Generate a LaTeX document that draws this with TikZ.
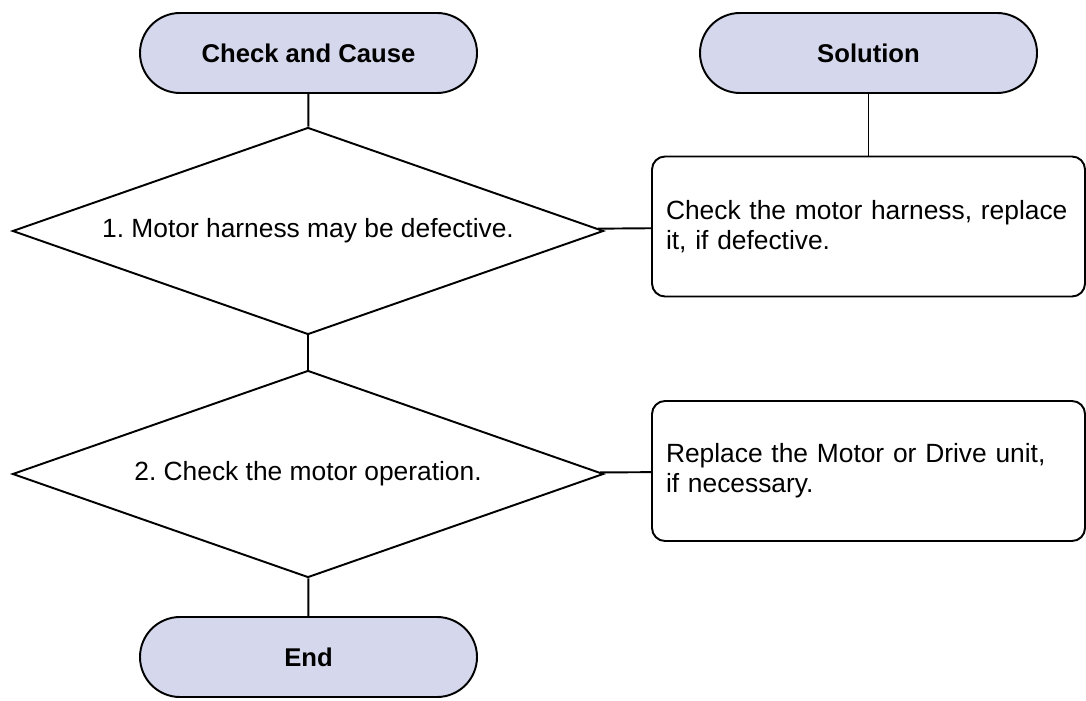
\documentclass[tikz,border=0pt]{standalone}
\usepackage{fontspec}
\setmainfont{Liberation Sans}
\usepackage{xcolor}
\usepackage{tikz}
\usetikzlibrary{shapes.geometric}
\definecolor{termfill}{RGB}{213,216,236}
\frenchspacing

\begin{document}
\begin{tikzpicture}[
    line width=1.1pt,
    terminal/.style={draw, fill=termfill, rounded corners=0.8cm,
      minimum width=6.74cm, minimum height=1.6cm,
      font=\fontsize{14.6}{17}\selectfont\bfseries},
    check/.style={draw, diamond, aspect=2.86, inner sep=0pt,
      minimum width=11.82cm, minimum height=4.14cm,
      font=\fontsize{15}{18}\selectfont},
    remedy/.style={draw, rounded corners=0.26cm, align=left,
      text width=8.1cm, inner xsep=0.28cm,
      minimum width=8.66cm, minimum height=2.8cm,
      font=\fontsize{15}{17}\selectfont}
  ]
  \useasboundingbox (0,0) rectangle (21.72,14);

  % Column headers
  \node[terminal] (cause) at (6.17,12.94) {Check and Cause};
  \node[terminal] (solution) at (17.37,12.94) {Solution};

  % Checks (left column)
  \node[check] (chk1) at (6.16,9.38) {1. Motor harness may be defective.};
  \node[check] (chk2) at (6.16,4.52) {2. Check the motor operation.};

  % End terminal
  \node[terminal] (end) at (6.17,0.86) {End};

  % Remedies (right column)
  \node[remedy] (fix1) at (17.37,9.47)
    {Check the motor harness, replace\\it, if defective.};
  \node[remedy] (fix2) at (17.37,4.58)
    {Replace the Motor or Drive unit,\\if necessary.};

  % Connectors
  \draw (cause) -- (chk1);
  \draw (chk1) -- (chk2);
  \draw (chk2) -- (end);
  \draw (solution) -- (fix1);
  \draw (chk1) -- (fix1);
  \draw (chk2) -- (fix2);
\end{tikzpicture}
\end{document}
